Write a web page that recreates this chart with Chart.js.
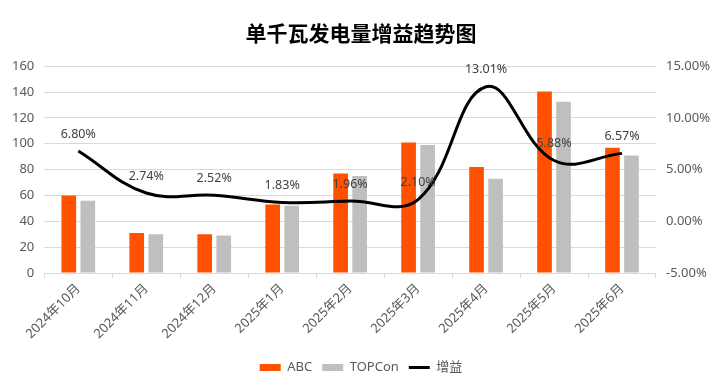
<!DOCTYPE html>
<html>
<head>
<meta charset="utf-8">
<title>单千瓦发电量增益趋势图</title>
<script src="https://cdn.jsdelivr.net/npm/chart.js@4.4.1/dist/chart.umd.min.js"></script>
<style>
  html, body { margin: 0; padding: 0; background: #fff; }
  #wrap { width: 720px; height: 388px; }
</style>
</head>
<body>
<div id="wrap"><canvas id="grafico" width="720" height="388"></canvas></div>
<script>
const meses = ['2024年10月', '2024年11月', '2024年12月', '2025年1月', '2025年2月', '2025年3月', '2025年4月', '2025年5月', '2025年6月'];
const abc = [60, 31, 30, 53, 77, 101, 82, 140.5, 97];
const topcon = [56, 30, 29, 52, 75, 99, 73, 132.5, 91];
const ganho = [6.80, 2.74, 2.52, 1.83, 1.96, 2.10, 13.01, 5.88, 6.57];
const ticksEsquerda = [0, 20, 40, 60, 80, 100, 120, 140, 160];
const ticksDireita = [-5, 0, 5, 10, 15];

const fonte = '"Noto Sans", "Noto Sans CJK SC", sans-serif';
const cinzaTexto = '#595959';

// rótulos de porcentagem acima da linha
const rotulosLinha = {
    id: 'rotulosLinha',
    afterDatasetsDraw(chart) {
        const meta = chart.getDatasetMeta(2);
        const ctx = chart.ctx;
        ctx.save();
        ctx.font = '12.5px ' + fonte;
        ctx.fillStyle = '#404040';
        ctx.textAlign = 'center';
        ctx.textBaseline = 'middle';
        meta.data.forEach((pt, i) => {
            ctx.fillText(ganho[i].toFixed(2) + '%', pt.x, pt.y - 17);
        });
        ctx.restore();
    }
};

new Chart(document.getElementById('grafico').getContext('2d'), {
    type: 'bar',
    data: {
        labels: meses,
        datasets: [{
            label: 'ABC',
            data: abc,
            backgroundColor: '#FF5100',
            borderWidth: 0,
            pointStyle: 'rect',
            order: 1,
            yAxisID: 'y'
        }, {
            label: 'TOPCon',
            data: topcon,
            backgroundColor: '#BFBFBF',
            borderWidth: 0,
            pointStyle: 'rect',
            order: 2,
            yAxisID: 'y'
        }, {
            type: 'line',
            label: '增益',
            data: ganho,
            borderColor: '#000000',
            backgroundColor: '#000000',
            borderWidth: 3,
            pointRadius: 0,
            pointStyle: 'line',
            tension: 0.4,
            order: 0,
            yAxisID: 'y1'
        }]
    },
    options: {
        responsive: false,
        devicePixelRatio: 1,
        animation: false,
        layout: { padding: { left: 2, right: 0, bottom: 4 } },
        datasets: {
            bar: { categoryPercentage: 0.56, barPercentage: 0.77 }
        },
        plugins: {
            title: {
                display: true,
                text: '单千瓦发电量增益趋势图',
                color: '#000',
                font: { family: fonte, size: 21, weight: 'bold' },
                padding: { top: 22, bottom: 19 }
            },
            legend: {
                position: 'bottom',
                labels: {
                    usePointStyle: true,
                    pointStyleWidth: 21,
                    boxHeight: 7,
                    padding: 10,
                    color: cinzaTexto,
                    font: { family: fonte, size: 13 },
                    sort: (a, b) => a.datasetIndex - b.datasetIndex
                }
            },
            tooltip: { enabled: false }
        },
        scales: {
            x: {
                offset: true,
                grid: {
                    offset: true,
                    drawOnChartArea: false,
                    drawTicks: true,
                    tickLength: 5,
                    color: '#D9D9D9'
                },
                border: { display: true, color: '#D9D9D9' },
                ticks: {
                    color: cinzaTexto,
                    font: { family: fonte, size: 13 },
                    minRotation: 45,
                    maxRotation: 45,
                    padding: 3
                },
                afterFit: (axis) => { axis.height += 6; }
            },
            y: {
                position: 'left',
                min: 0,
                max: 160,
                afterBuildTicks: (axis) => { axis.ticks = ticksEsquerda.map(v => ({ value: v })); },
                grid: { color: '#D9D9D9', drawTicks: false },
                border: { display: false },
                ticks: {
                    color: cinzaTexto,
                    font: { family: fonte, size: 13 },
                    padding: 10
                }
            },
            y1: {
                position: 'right',
                min: -5,
                max: 15,
                afterBuildTicks: (axis) => { axis.ticks = ticksDireita.map(v => ({ value: v })); },
                grid: { display: false, drawTicks: false },
                border: { display: false },
                ticks: {
                    color: cinzaTexto,
                    font: { family: fonte, size: 13 },
                    padding: 10,
                    callback: (v) => Number(v).toFixed(2) + '%'
                }
            }
        }
    },
    plugins: [rotulosLinha]
});
</script>
</body>
</html>
